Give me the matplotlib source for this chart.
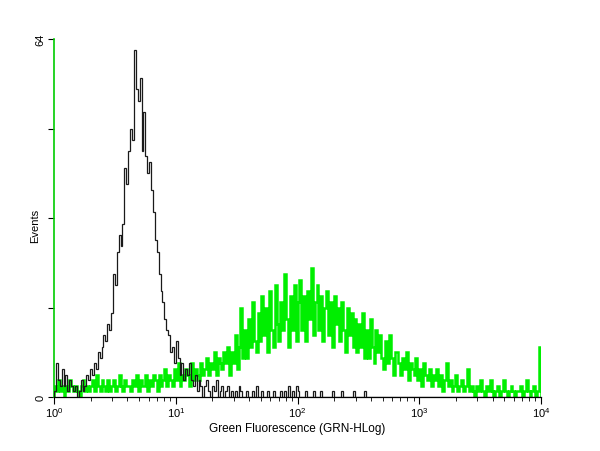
import numpy as np
import matplotlib
matplotlib.use("Agg")
import matplotlib.pyplot as plt
from matplotlib.ticker import FixedLocator, NullFormatter

plt.rcParams['font.family'] = ['Liberation Sans', 'DejaVu Sans']
plt.rcParams['mathtext.fontset'] = 'custom'
plt.rcParams['mathtext.rm'] = 'Liberation Sans'

# 256 log channels spanning 10^0 .. 10^4
n_channels = 256
x_min_decade = 0
x_max_decade = 4

control_counts = [
    1, 6, 3, 2, 5, 2, 4, 1, 3, 2,
    1, 2, 0, 1, 3, 1, 2, 4, 3, 5,
    4, 6, 5, 8, 7, 9, 11, 10, 13, 12,
    15, 22, 20, 26, 29, 27, 31, 41, 38, 44,
    48, 46, 62, 55, 53, 57, 44, 51, 43, 40,
    42, 37, 33, 28, 26, 22, 19, 17, 14, 12,
    11, 8, 9, 6, 10, 7, 4, 6, 3, 5,
    4, 6, 3, 2, 4, 1, 3, 2, 0, 2,
    3, 1, 0, 2, 1, 3, 0, 1, 2, 0,
    1, 2, 0, 1, 0, 1, 0, 2, 1, 0,
    0, 1, 0, 0, 1, 0, 2, 0, 0, 1,
    0, 0, 1, 0, 0, 1, 0, 0, 0, 1,
    0, 1, 0, 2, 0, 1, 0, 2, 1, 0,
    0, 0, 1, 0, 0, 0, 1, 0, 0, 0,
    1, 0, 0, 0, 0, 0, 1, 0, 0, 0,
    0, 1, 0, 0, 0, 0, 0, 1, 0, 0,
    0, 0, 0, 1, 0, 0, 0, 0, 0, 0,
] + [0] * 86

stained_counts = [
    2, 1, 3, 1, 2, 0, 2, 1, 3, 2,
    1, 2, 1, 0, 2, 3, 1, 2, 1, 2,
    3, 1, 4, 2, 1, 3, 2, 1, 3, 1,
    2, 3, 1, 2, 4, 2, 1, 3, 2, 2,
    1, 3, 2, 4, 1, 3, 2, 2, 4, 1,
    3, 2, 4, 3, 1, 4, 2, 3, 5, 2,
    4, 3, 2, 5, 3, 6, 2, 4, 3, 5,
    4, 2, 6, 3, 5, 4, 3, 6, 4, 5,
    7, 4, 6, 5, 8, 4, 7, 6, 5, 8,
    6, 9, 4, 8, 6, 11, 5, 9, 16, 7,
    12, 7, 14, 9, 17, 10, 8, 15, 10, 18,
    11, 16, 8, 19, 12, 9, 20, 13, 10, 17,
    12, 22, 14, 9, 18, 12, 20, 10, 17, 21,
    12, 18, 10, 19, 14, 23, 11, 17, 20, 12,
    18, 10, 16, 19, 11, 17, 9, 18, 13, 16,
    10, 17, 12, 8, 16, 11, 15, 9, 14, 8,
    13, 9, 15, 7, 12, 7, 14, 9, 6, 12,
    8, 11, 7, 5, 10, 6, 11, 7, 4, 8,
    8, 6, 4, 7, 5, 8, 3, 6, 5, 4,
    7, 3, 5, 2, 6, 4, 3, 5, 2, 4,
    3, 5, 2, 4, 1, 3, 6, 2, 3, 1,
    2, 4, 1, 2, 3, 1, 2, 5, 1, 2,
    1, 0, 2, 1, 3, 1, 0, 2, 1, 3,
    1, 0, 1, 2, 0, 1, 3, 1, 0, 1,
    2, 1, 0, 1, 1, 2, 0, 1, 3, 1,
    0, 1, 2, 0, 1, 9,
]

x_tick_labels = [r'$\mathregular{10^{0}}$', r'$\mathregular{10^{1}}$', r'$\mathregular{10^{2}}$',
                 r'$\mathregular{10^{3}}$', r'$\mathregular{10^{4}}$']
y_max = 64
x_label = 'Green Fluorescence (GRN-HLog)'
y_label = 'Events'

edges = np.logspace(x_min_decade, x_max_decade, n_channels + 1)

fig = plt.figure(figsize=(6.0, 4.52), dpi=100)
ax = fig.add_axes([54 / 600, 1 - 398 / 452, (541 - 54) / 600, (398 - 40) / 452])

ax.stairs(stained_counts, edges, color='#00ee00', linewidth=1.8, zorder=2)
ax.stairs(control_counts, edges, color='#1a1a1a', linewidth=0.9, zorder=3)

ax.set_xscale('log')
ax.set_xlim(10 ** x_min_decade, 10 ** x_max_decade)
ax.set_ylim(0, y_max)

ax.spines['top'].set_visible(False)
ax.spines['right'].set_visible(False)
ax.spines['left'].set_color('#00cc00')
ax.spines['left'].set_linewidth(1.2)
ax.spines['bottom'].set_linewidth(0.9)

major = [10 ** d for d in range(x_min_decade, x_max_decade + 1)]
minor = [m * 10 ** d for d in range(x_min_decade, x_max_decade) for m in range(2, 10)]
ax.xaxis.set_major_locator(FixedLocator(major))
ax.xaxis.set_minor_locator(FixedLocator(minor))
ax.set_xticklabels(x_tick_labels)
ax.xaxis.set_minor_formatter(NullFormatter())
ax.tick_params(axis='x', which='major', length=5, width=0.8, direction='out', labelsize=8, pad=1)
ax.tick_params(axis='x', which='minor', length=3, width=0.6, direction='out')

ax.set_yticks([0, y_max])
ax.set_yticklabels(['0', str(y_max)], rotation=90, va='center')
ax.yaxis.set_minor_locator(FixedLocator([16, 32, 48]))
ax.tick_params(axis='y', which='major', length=4, width=0.8, direction='out', labelsize=8, pad=2)
ax.tick_params(axis='y', which='minor', length=4, width=0.8, direction='out')

ax.set_xlabel(x_label, fontsize=8.5, labelpad=2)
fig.text(35 / 600, 1 - 226 / 452, y_label, rotation=90, fontsize=8, ha='center', va='center')

fig.savefig('out.png', dpi=100)
